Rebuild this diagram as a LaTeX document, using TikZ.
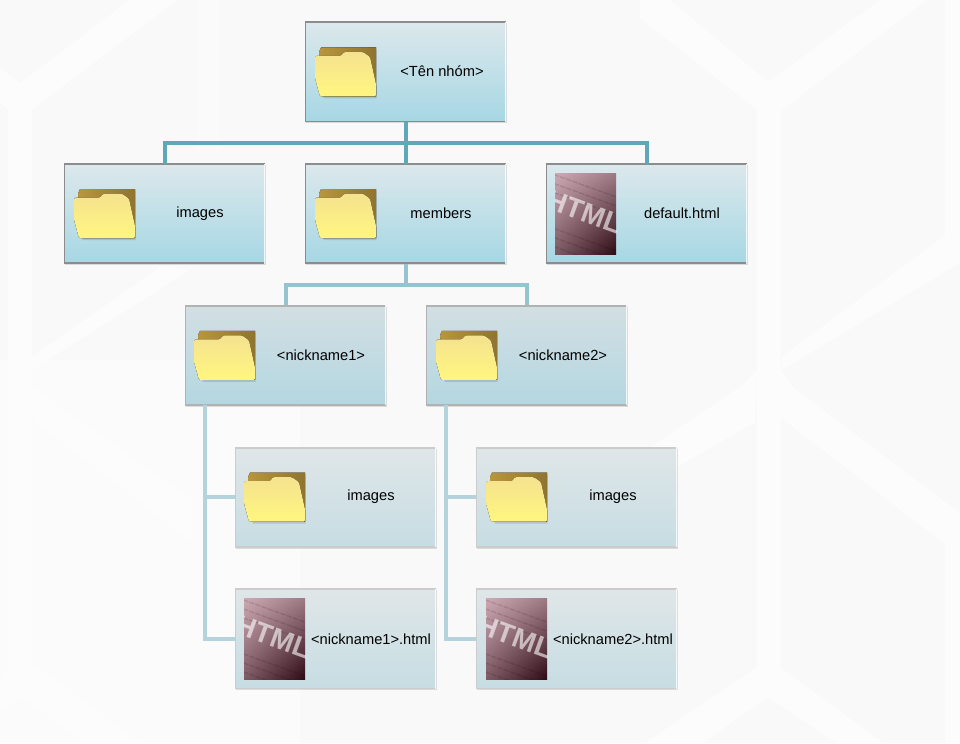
\documentclass[tikz,border=0pt]{standalone}
\usepackage{fontspec}
\setmainfont{Liberation Sans}
\usetikzlibrary{positioning, calc, shadows, shadings}

\definecolor{barA}{HTML}{5FA8B8}
\definecolor{barB}{HTML}{95C3D0}
\definecolor{barC}{HTML}{B5D3DC}
\definecolor{paper}{HTML}{F9F9F9}
\definecolor{paperlow}{HTML}{FBFBFB}
\definecolor{paperband}{HTML}{FCFCFC}
\definecolor{paperfaint}{HTML}{FAFAFA}
\definecolor{htmlA}{HTML}{CDA9B4}
\definecolor{htmlB}{HTML}{2E0A14}
\definecolor{boxAtop}{HTML}{DCE8EC}
\definecolor{boxAbot}{HTML}{A6D7E4}
\definecolor{boxBtop}{HTML}{D2DFE3}
\definecolor{boxBbot}{HTML}{B4D7E1}
\definecolor{boxCtop}{HTML}{E0E6E8}
\definecolor{boxCbot}{HTML}{C6DDE3}
\definecolor{folderA}{HTML}{B8963C}
\definecolor{folderB}{HTML}{8F7430}
\definecolor{folderC}{HTML}{F5E28F}
\definecolor{folderM}{HTML}{F2DE70}
\definecolor{folderD}{HTML}{FFF67F}

\tikzset{
  boxedge/.style={},
  box/.style={rectangle, minimum width=150.75pt, minimum height=75pt, outer sep=0pt,
    drop shadow={shadow xshift=1pt, shadow yshift=-1pt, opacity=0.25},
    path picture={
      \draw[boxedge, line width=2pt] (path picture bounding box.north east) -- (path picture bounding box.north west)
        -- (path picture bounding box.south west) -- (path picture bounding box.south east);
      \draw[white, opacity=0.8, line width=2pt] (path picture bounding box.north east) -- (path picture bounding box.south east);
    }},
  boxA/.style={box, boxedge/.style={draw=black!45}, top color=boxAtop, bottom color=boxAbot},
  boxB/.style={box, boxedge/.style={draw=black!30}, top color=boxBtop, bottom color=boxBbot},
  boxC/.style={box, boxedge/.style={draw=black!20}, top color=boxCtop, bottom color=boxCbot},
  boxtext/.style={font=\fontsize{11pt}{13pt}\selectfont, text=black},
  linkA/.style={draw=barA, line width=3pt},
  linkB/.style={draw=barB, line width=3pt},
  linkC/.style={draw=barC, line width=3pt},
  band/.style={fill=paperband, draw=none},
  % folder icon, origin at its left middle, 61 by 49 px
  folder/.pic={
    \fill[left color=folderA, right color=folderB, drop shadow={shadow xshift=0.5pt, shadow yshift=-1.5pt, opacity=0.3}]
      (4,20) -- (6,24.5) -- (61,24.5) -- (61,-24.5) -- (8,-24.5) -- cycle;
    \fill[top color=folderC, middle color=folderM, bottom color=folderD, rounded corners=1pt]
      (0,16) -- (26,16) -- (29,20) -- (48,20) -- (55,15) -- (61,-12) -- (61,-24.5) -- (5,-24.5) -- (0,-6) -- cycle;
  },
  % html icon, origin at its left middle, 61 by 81 px
  htmlicon/.pic={
    \begin{scope}
    \clip (0,-40.5) rectangle (61,40.5);
    \shade[upper left=htmlA, upper right=htmlA!70!htmlB, lower left=htmlA!50!htmlB, lower right=htmlB]
      (0,-40.5) rectangle (61,40.5);
    \foreach \ypos in {-36,-27,-18,18,27,36}
      \draw[black, opacity=0.12, line width=1pt, dash pattern=on 4pt off 1pt] (-20,\ypos+10) -- (80,\ypos-26);
    \node[rotate=-20, text=white, opacity=0.6, font=\bfseries\fontsize{21pt}{21pt}\selectfont] at (29,2) {HTML};
    \end{scope}
  }
}

\begin{document}
\begin{tikzpicture}[x=0.75pt, y=0.75pt, node distance=31.3pt and 30pt]

\useasboundingbox[fill=paper] (0,0) rectangle (960,743);

% Background
\begin{scope}[shift={(0,743)}, yscale=-1]
\fill[paperlow] (0,360) rectangle (300,743);
\fill[paperfaint] (197,0) rectangle (220,150);
\fill[band] (757,85) rectangle (781,670);
\fill[band] (8,85) rectangle (32,670);
\fill[band] (945,0) rectangle (960,235);
\fill[band] (945,542) rectangle (960,743);
\fill[band] (670,0) -- (768,82) -- (880,0) -- (927,0) -- (782,110) -- (757,110) -- (640,18) -- (640,0) -- cycle;
\fill[band] (130,0) -- (20,83) -- (0,68) -- (0,103) -- (8,110) -- (32,110) -- (177,0) -- cycle;
\fill[band] (782,357) -- (945,235) -- (960,235) -- (960,263) -- (782,370) -- cycle;
\fill[band] (32,357) -- (160,267) -- (190,270) -- (32,370) -- cycle;
\fill[band] (781,370) -- (793,387) -- (960,513) -- (960,542) -- (942,542) -- (780,417) -- cycle;
\fill[band] (757,370) -- (740,387) -- (640,454) -- (640,489) -- (755,422) -- cycle;
\fill[band] (32,387) -- (193,500) -- (193,543) -- (33,420) -- cycle;
\fill[band] (757,667) -- (645,743) -- (703,743) -- (768,697) -- (837,743) -- (883,743) -- (780,667) -- cycle;
\fill[band] (33,663) -- (140,743) -- (85,743) -- (20,697) -- (0,712) -- (0,680) -- (8,670) -- cycle;
\end{scope}

% Top level
\node (root) [boxA] at (405.5,671) {};
\node (members) [boxA, below=of root] {};
\node (images) [boxA, left=of members] {};
\node (default) [boxA, right=of members] {};

% Nicknames
\node (nickA) [boxB, below=of members, xshift=-90pt] {};
\node (nickB) [boxB, right=of nickA] {};

% Leaves
\node (imagesA) [boxC, below=of nickA, xshift=37.5pt] {};
\node (htmlA) [boxC, below=of imagesA] {};
\node (imagesB) [boxC, below=of nickB, xshift=37.5pt] {};
\node (htmlB) [boxC, below=of imagesB] {};

% Labels
\node (rootname) [boxtext] at ($(root.west)+(137,1)$) {<Tên nhóm>};
\node (imagesname) [boxtext] at ($(images.west)+(136,0)$) {images};
\node (membersname) [boxtext] at ($(members.west)+(136,0)$) {members};
\node (defaultname) [boxtext] at ($(default.west)+(136,0)$) {default.html};
\node (nickAname) [boxtext] at ($(nickA.west)+(136,0)$) {<nickname1>};
\node (nickBname) [boxtext] at ($(nickB.west)+(137,0)$) {<nickname2>};
\node (imagesAname) [boxtext] at ($(imagesA.west)+(136,0)$) {images};
\node (htmlAname) [boxtext] at ($(htmlA.west)+(136,0)$) {<nickname1>.html};
\node (imagesBname) [boxtext] at ($(imagesB.west)+(137,0)$) {images};
\node (htmlBname) [boxtext] at ($(htmlB.west)+(137,0)$) {<nickname2>.html};

% Icons
\pic at ($(root.west)+(10,0)$) {folder};
\pic at ($(images.west)+(10,0)$) {folder};
\pic at ($(members.west)+(10,0)$) {folder};
\pic at ($(default.west)+(9,0)$) {htmlicon};
\pic at ($(nickA.west)+(9,0)$) {folder};
\pic at ($(nickB.west)+(10,0)$) {folder};
\pic at ($(imagesA.west)+(9,0)$) {folder};
\pic at ($(htmlA.west)+(9,0)$) {htmlicon};
\pic at ($(imagesB.west)+(10,0)$) {folder};
\pic at ($(htmlB.west)+(10,0)$) {htmlicon};

% Links from the top
\coordinate (forkA) at ($(root.south)!0.5!(members.north)$);
\draw[linkA] (root.south) -- (members.north);
\draw[linkA] (forkA) -| (images.north);
\draw[linkA] (forkA) -| (default.north);

% Links to nicknames
\coordinate (forkB) at ($(members.south)!0.5!(members.south |- nickA.north)$);
\draw[linkB] (members.south) -- (forkB);
\draw[linkB] (forkB) -| (nickA.north);
\draw[linkB] (forkB) -| (nickB.north);

% Links to leaves
\coordinate (trunkA) at ($(nickA.south west)+(20,0)$);
\coordinate (trunkB) at ($(nickB.south west)+(20,0)$);
\draw[linkC] (trunkA) |- (imagesA.west);
\draw[linkC] (trunkA) |- (htmlA.west);
\draw[linkC] (trunkB) |- (imagesB.west);
\draw[linkC] (trunkB) |- (htmlB.west);

\end{tikzpicture}
\end{document}
